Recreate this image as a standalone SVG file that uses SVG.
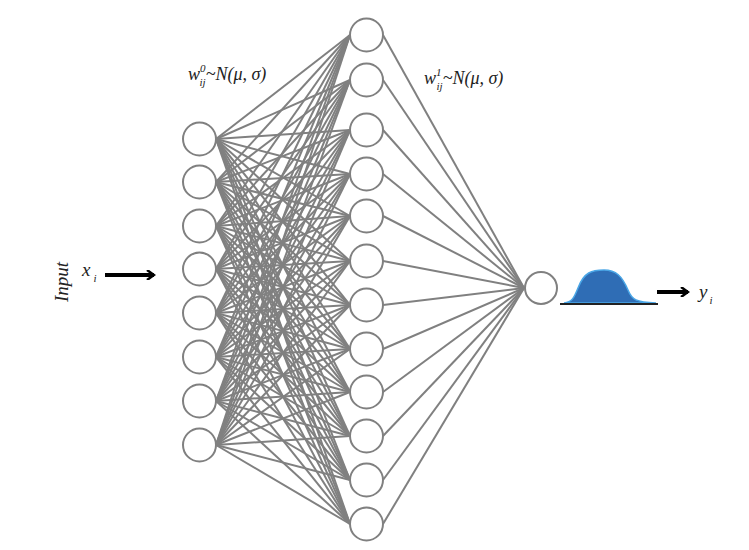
<svg xmlns="http://www.w3.org/2000/svg" width="749" height="550" viewBox="0 0 749 550">
<style>
.n{fill:#fff;stroke:#808080;stroke-width:2}
.c line{stroke:#808080;stroke-width:2}
.t{font-family:"Liberation Serif",serif;font-style:italic;fill:#222}
</style>
<defs>
<marker id="ah" markerWidth="10" markerHeight="10" refX="8" refY="5" orient="auto" markerUnits="userSpaceOnUse"><path d="M1,0 L8,5 L1,10" fill="none" stroke="#000" stroke-width="2.5"/></marker>
</defs>
<rect width="749" height="550" fill="#fff"/>
<g id="connectors" class="c">
<line x1="216" y1="139" x2="350" y2="35"/><line x1="216" y1="139" x2="350" y2="80"/><line x1="216" y1="139" x2="350" y2="130"/><line x1="216" y1="139" x2="350" y2="174"/><line x1="216" y1="139" x2="350" y2="216"/><line x1="216" y1="139" x2="350" y2="261"/><line x1="216" y1="139" x2="350" y2="305"/><line x1="216" y1="139" x2="350" y2="349"/><line x1="216" y1="139" x2="350" y2="392"/><line x1="216" y1="139" x2="350" y2="436"/><line x1="216" y1="139" x2="350" y2="480"/><line x1="216" y1="139" x2="350" y2="524"/>
<line x1="216" y1="182" x2="350" y2="35"/><line x1="216" y1="182" x2="350" y2="80"/><line x1="216" y1="182" x2="350" y2="130"/><line x1="216" y1="182" x2="350" y2="174"/><line x1="216" y1="182" x2="350" y2="216"/><line x1="216" y1="182" x2="350" y2="261"/><line x1="216" y1="182" x2="350" y2="305"/><line x1="216" y1="182" x2="350" y2="349"/><line x1="216" y1="182" x2="350" y2="392"/><line x1="216" y1="182" x2="350" y2="436"/><line x1="216" y1="182" x2="350" y2="480"/><line x1="216" y1="182" x2="350" y2="524"/>
<line x1="216" y1="226" x2="350" y2="35"/><line x1="216" y1="226" x2="350" y2="80"/><line x1="216" y1="226" x2="350" y2="130"/><line x1="216" y1="226" x2="350" y2="174"/><line x1="216" y1="226" x2="350" y2="216"/><line x1="216" y1="226" x2="350" y2="261"/><line x1="216" y1="226" x2="350" y2="305"/><line x1="216" y1="226" x2="350" y2="349"/><line x1="216" y1="226" x2="350" y2="392"/><line x1="216" y1="226" x2="350" y2="436"/><line x1="216" y1="226" x2="350" y2="480"/><line x1="216" y1="226" x2="350" y2="524"/>
<line x1="216" y1="269" x2="350" y2="35"/><line x1="216" y1="269" x2="350" y2="80"/><line x1="216" y1="269" x2="350" y2="130"/><line x1="216" y1="269" x2="350" y2="174"/><line x1="216" y1="269" x2="350" y2="216"/><line x1="216" y1="269" x2="350" y2="261"/><line x1="216" y1="269" x2="350" y2="305"/><line x1="216" y1="269" x2="350" y2="349"/><line x1="216" y1="269" x2="350" y2="392"/><line x1="216" y1="269" x2="350" y2="436"/><line x1="216" y1="269" x2="350" y2="480"/><line x1="216" y1="269" x2="350" y2="524"/>
<line x1="216" y1="313" x2="350" y2="35"/><line x1="216" y1="313" x2="350" y2="80"/><line x1="216" y1="313" x2="350" y2="130"/><line x1="216" y1="313" x2="350" y2="174"/><line x1="216" y1="313" x2="350" y2="216"/><line x1="216" y1="313" x2="350" y2="261"/><line x1="216" y1="313" x2="350" y2="305"/><line x1="216" y1="313" x2="350" y2="349"/><line x1="216" y1="313" x2="350" y2="392"/><line x1="216" y1="313" x2="350" y2="436"/><line x1="216" y1="313" x2="350" y2="480"/><line x1="216" y1="313" x2="350" y2="524"/>
<line x1="216" y1="357" x2="350" y2="35"/><line x1="216" y1="357" x2="350" y2="80"/><line x1="216" y1="357" x2="350" y2="130"/><line x1="216" y1="357" x2="350" y2="174"/><line x1="216" y1="357" x2="350" y2="216"/><line x1="216" y1="357" x2="350" y2="261"/><line x1="216" y1="357" x2="350" y2="305"/><line x1="216" y1="357" x2="350" y2="349"/><line x1="216" y1="357" x2="350" y2="392"/><line x1="216" y1="357" x2="350" y2="436"/><line x1="216" y1="357" x2="350" y2="480"/><line x1="216" y1="357" x2="350" y2="524"/>
<line x1="216" y1="401" x2="350" y2="35"/><line x1="216" y1="401" x2="350" y2="80"/><line x1="216" y1="401" x2="350" y2="130"/><line x1="216" y1="401" x2="350" y2="174"/><line x1="216" y1="401" x2="350" y2="216"/><line x1="216" y1="401" x2="350" y2="261"/><line x1="216" y1="401" x2="350" y2="305"/><line x1="216" y1="401" x2="350" y2="349"/><line x1="216" y1="401" x2="350" y2="392"/><line x1="216" y1="401" x2="350" y2="436"/><line x1="216" y1="401" x2="350" y2="480"/><line x1="216" y1="401" x2="350" y2="524"/>
<line x1="216" y1="445" x2="350" y2="35"/><line x1="216" y1="445" x2="350" y2="80"/><line x1="216" y1="445" x2="350" y2="130"/><line x1="216" y1="445" x2="350" y2="174"/><line x1="216" y1="445" x2="350" y2="216"/><line x1="216" y1="445" x2="350" y2="261"/><line x1="216" y1="445" x2="350" y2="305"/><line x1="216" y1="445" x2="350" y2="349"/><line x1="216" y1="445" x2="350" y2="392"/><line x1="216" y1="445" x2="350" y2="436"/><line x1="216" y1="445" x2="350" y2="480"/><line x1="216" y1="445" x2="350" y2="524"/>
<line x1="383" y1="35" x2="524" y2="288"/><line x1="383" y1="80" x2="524" y2="288"/><line x1="383" y1="130" x2="524" y2="288"/><line x1="383" y1="174" x2="524" y2="288"/><line x1="383" y1="216" x2="524" y2="288"/><line x1="383" y1="261" x2="524" y2="288"/><line x1="383" y1="305" x2="524" y2="288"/><line x1="383" y1="349" x2="524" y2="288"/><line x1="383" y1="392" x2="524" y2="288"/><line x1="383" y1="436" x2="524" y2="288"/><line x1="383" y1="480" x2="524" y2="288"/><line x1="383" y1="524" x2="524" y2="288"/>
</g>
<g id="layer0">
<circle class="n" cx="199.5" cy="139" r="16.5"/><circle class="n" cx="199.5" cy="182" r="16.5"/><circle class="n" cx="199.5" cy="226" r="16.5"/><circle class="n" cx="199.5" cy="269" r="16.5"/><circle class="n" cx="199.5" cy="313" r="16.5"/><circle class="n" cx="199.5" cy="357" r="16.5"/><circle class="n" cx="199.5" cy="401" r="16.5"/><circle class="n" cx="199.5" cy="445" r="16.5"/>
</g>
<g id="layer1">
<circle class="n" cx="366.5" cy="35" r="16.5"/><circle class="n" cx="366.5" cy="80" r="16.5"/><circle class="n" cx="366.5" cy="130" r="16.5"/><circle class="n" cx="366.5" cy="174" r="16.5"/><circle class="n" cx="366.5" cy="216" r="16.5"/><circle class="n" cx="366.5" cy="261" r="16.5"/><circle class="n" cx="366.5" cy="305" r="16.5"/><circle class="n" cx="366.5" cy="349" r="16.5"/><circle class="n" cx="366.5" cy="392" r="16.5"/><circle class="n" cx="366.5" cy="436" r="16.5"/><circle class="n" cx="366.5" cy="480" r="16.5"/><circle class="n" cx="366.5" cy="524" r="16.5"/>
</g>
<g id="output">
<circle class="n" cx="541" cy="288" r="16"/>
</g>
<g id="distribution">
<path d="M564,303 C572,302 574,298 578,288 C584,272 592,270 604,270 C616,270 622,276 628,290 C632,300 636,302 656,303 Z" fill="#2f6db5" stroke="#4aa6e6" stroke-width="1.5"/>
<line x1="560" y1="304" x2="658" y2="304" stroke="#222" stroke-width="2"/>
</g>
<g id="arrows">
<line x1="105" y1="275" x2="154" y2="275" stroke="#000" stroke-width="4" marker-end="url(#ah)"/>
<line x1="657" y1="292" x2="688" y2="292" stroke="#000" stroke-width="4" marker-end="url(#ah)"/>
</g>
<g id="labels" class="t">
<text transform="translate(68,302) rotate(-90)" font-size="19">Input</text>
<text x="82" y="276" font-size="19">x<tspan font-size="11" dx="3" dy="6">i</tspan></text>
<text x="699" y="298" font-size="19">y<tspan font-size="11" dx="2" dy="6">i</tspan></text>
<text x="188" y="80" font-size="18">w<tspan font-size="11" dy="-8">0</tspan><tspan font-size="11" dx="-6" dy="14">ij</tspan><tspan dy="-6">~N(μ, σ)</tspan></text>
<text x="424" y="84" font-size="18">w<tspan font-size="11" dy="-8">1</tspan><tspan font-size="11" dx="-5" dy="14">ij</tspan><tspan dy="-6">~N(μ, σ)</tspan></text>
</g>
</svg>
